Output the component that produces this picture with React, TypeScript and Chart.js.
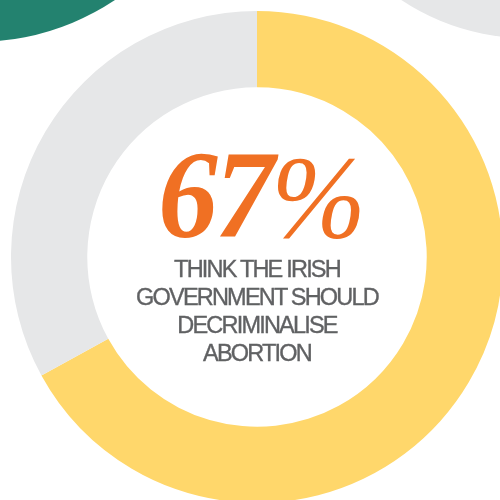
import React, { useEffect, useRef } from "react";
import { Chart, registerables } from "chart.js";

Chart.register(...registerables);

const categories = ["Decriminalise", "Other"];
const values = [67, 33];
const colors = ["#FFD76B", "#E6E7E8"];
const headline = "67";
const headlineUnit = "%";
const captionLines = ["THINK THE IRISH", "GOVERNMENT SHOULD", "DECRIMINALISE", "ABORTION"];

export default function App() {
  const ref = useRef<HTMLCanvasElement | null>(null);

  useEffect(() => {
    if (!ref.current) return;
    const chart = new Chart(ref.current, {
      type: "doughnut",
      data: {
        labels: categories,
        datasets: [
          {
            data: values,
            backgroundColor: colors,
            borderWidth: 0,
          },
        ],
      },
      options: {
        responsive: false,
        animation: false,
        cutout: "69%",
        layout: { padding: { left: 11, top: 11, right: 17, bottom: 17 } },
        plugins: {
          legend: { display: false },
          tooltip: { enabled: false },
        },
      },
    });
    return () => chart.destroy();
  }, []);

  return (
    <div
      style={{
        position: "fixed",
        left: 0,
        top: 0,
        width: 500,
        height: 500,
        overflow: "hidden",
        background: "#ffffff",
      }}
    >
      <div
        style={{
          position: "absolute",
          left: -24 - 251,
          top: -209 - 251,
          width: 502,
          height: 502,
          borderRadius: "50%",
          background: "#23826F",
        }}
      />
      <div
        style={{
          position: "absolute",
          left: 527 - 227,
          top: -189 - 227,
          width: 454,
          height: 454,
          borderRadius: "50%",
          background: "#E6E7E8",
        }}
      />
      <canvas
        ref={ref}
        width={520}
        height={520}
        style={{ position: "absolute", left: 0, top: 0, width: 520, height: 520 }}
      />
      <div
        style={{
          position: "absolute",
          left: 0,
          width: 522,
          top: 126,
          textAlign: "center",
          color: "#F07023",
          fontFamily: "'Liberation Serif', serif",
          fontStyle: "italic",
          fontSize: 124,
          lineHeight: "140px",
        }}
      >
        <span
          style={{
            display: "inline-block",
            transform: "scaleX(0.96)",
            letterSpacing: -3,
            whiteSpace: "nowrap",
          }}
        >
          <span style={{ fontWeight: 700 }}>{headline}</span>
          <span style={{ fontWeight: 400, fontSize: 118 }}>{headlineUnit}</span>
        </span>
      </div>
      <div
        style={{
          position: "absolute",
          left: 0,
          width: 514,
          top: 255,
          textAlign: "center",
          color: "#606163",
          fontFamily: "'Liberation Sans', Arial, sans-serif",
          fontSize: 23.5,
          lineHeight: "28px",
          letterSpacing: -1.8,
          WebkitTextStroke: "0.35px #606163",
        }}
      >
        {captionLines.map((l, i) => (
          <div key={i}>{l}</div>
        ))}
      </div>
    </div>
  );
}
